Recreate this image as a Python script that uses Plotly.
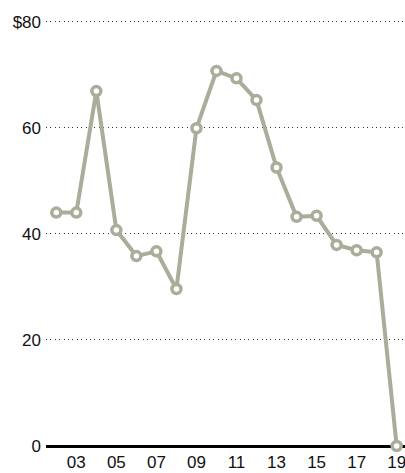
import plotly.graph_objects as go

years = list(range(2002, 2020))
values = [44.0, 44.0, 66.9, 40.7, 35.8, 36.7, 29.6, 59.9, 70.7, 69.3, 65.2,
          52.5, 43.2, 43.4, 37.9, 36.9, 36.5, 0.0]
x_tickvals = [2003, 2005, 2007, 2009, 2011, 2013, 2015, 2017, 2019]
x_ticktext = ["03", "05", "07", "09", "11", "13", "15", "17", "19"]
y_tickvals = [0, 20, 40, 60, 80]
y_ticktext = ["0", "20", "40", "60", "$80"]

LINE = "#a9ad9a"
FONT = "Liberation Sans"

fig = go.Figure()
fig.add_trace(go.Scatter(
    x=years, y=values, mode="lines+markers",
    line=dict(color=LINE, width=4),
    marker=dict(symbol="circle", size=9, color="white",
                line=dict(color=LINE, width=3.5)),
    cliponaxis=False, hoverinfo="skip", showlegend=False,
))

fig.update_layout(
    width=405, height=473,
    margin=dict(l=46, r=0, t=20, b=27),
    paper_bgcolor="white", plot_bgcolor="white",
    font=dict(family=FONT, size=17, color="#111111"),
    xaxis=dict(
        range=[2001.486, 2019.416], tickvals=x_tickvals, ticktext=x_ticktext,
        showgrid=False, zeroline=False, showline=False, ticks="",
        automargin=False, tickfont=dict(size=17), ticklabelstandoff=4,
        ticklabeloverflow="allow",
    ),
    yaxis=dict(
        range=[0, 80.3], tickvals=y_tickvals, ticktext=y_ticktext,
        showgrid=True, gridcolor="#333333", gridwidth=1, griddash="1px,3.4px",
        zeroline=True, zerolinecolor="#000000", zerolinewidth=3,
        showline=False, ticks="", automargin=False, ticklabelstandoff=4,
        tickfont=dict(size=17),
    ),
)

fig.write_html("out.html", config={"displayModeBar": False, "staticPlot": True},
               post_script="document.body.style.margin='0';document.body.style.overflow='hidden';")
